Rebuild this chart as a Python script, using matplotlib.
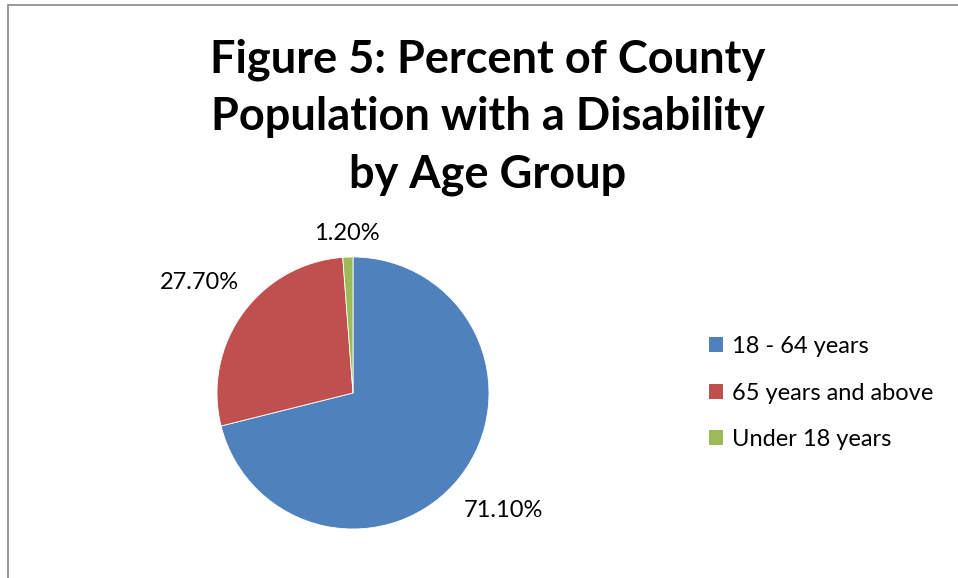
import numpy as np
import matplotlib
matplotlib.use("Agg")
import matplotlib.pyplot as plt
from matplotlib.patches import Rectangle, Patch

# data
groups = ["18 - 64 years", "65 years and above", "Under 18 years"]
shares = [71.10, 27.70, 1.20]
colors = ["#4F81BD", "#C0504D", "#9BBB59"]
title = "Figure 5: Percent of County\nPopulation with a Disability\nby Age Group"

plt.rcParams['font.family'] = ['Lato', 'DejaVu Sans']

W, H = 958, 578
fig = plt.figure(figsize=(W / 100, H / 100), dpi=100)

# outer frame (only top and left edges visible)
fig.patches.append(Rectangle((8 / W, -0.5), 1.5, 1.5 - 5 / H,
                             transform=fig.transFigure, fill=False,
                             edgecolor="#878787", linewidth=1.2))

fig.text(488 / W, 1 - 117 / H, title, ha="center", va="center",
         fontsize=32.5, fontweight="bold", linespacing=1.45)

# pie axes: centre (353, 393) px, radius 136 px
r = 136
ax = fig.add_axes([(353 - r) / W, (H - 393 - r) / H, 2 * r / W, 2 * r / H])
wedges, texts = ax.pie(shares, colors=colors, startangle=90, counterclock=False,
                       labels=["%.2f%%" % s for s in shares], labeldistance=1.3,
                       wedgeprops=dict(edgecolor="white", linewidth=0.6),
                       textprops=dict(fontsize=17))
ax.set_xlim(-1, 1)
ax.set_ylim(-1, 1)
ax.set_aspect("equal")

# tweak label distances like Excel's outside-end labels
dists = [1.40, 1.39, 1.17]
for w, t, d in zip(wedges, texts, dists):
    ang = np.deg2rad((w.theta1 + w.theta2) / 2)
    t.set_position((d * np.cos(ang), d * np.sin(ang)))
    t.set_ha("center")
    t.set_va("center")

handles = [Patch(facecolor=c, edgecolor="none") for c in colors]
fig.legend(handles, groups, loc="center left",
           bbox_to_anchor=(688 / W, 1 - 393 / H), frameon=False,
           fontsize=17, handlelength=0.6, handleheight=0.6,
           handletextpad=0.35, labelspacing=1.08)

fig.savefig("out.png", dpi=100)
